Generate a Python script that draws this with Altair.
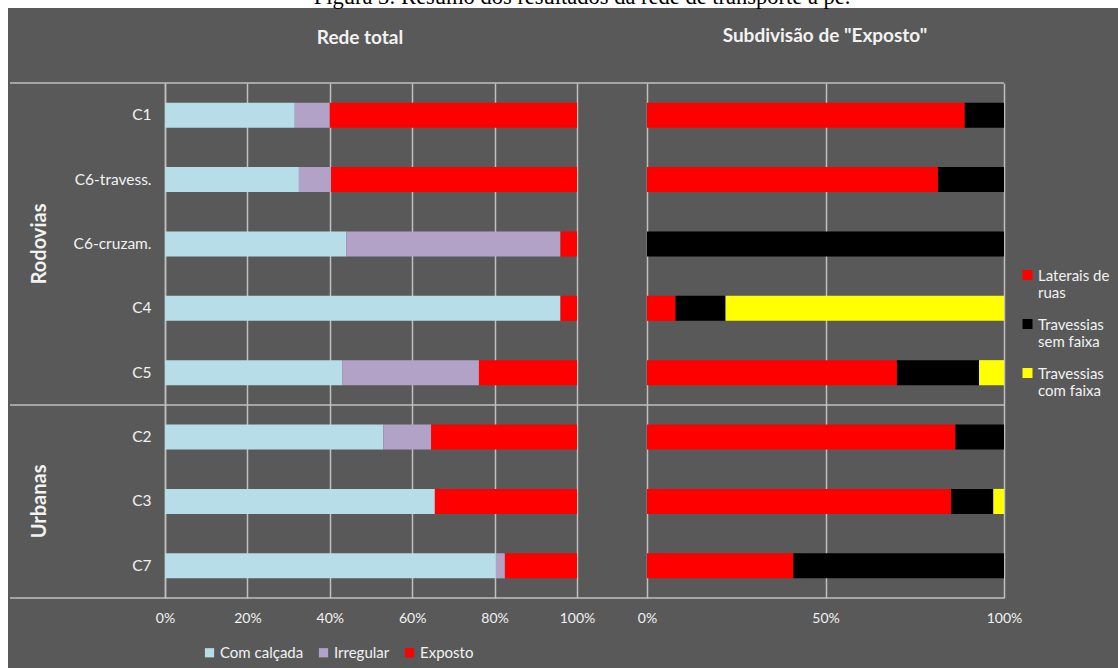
import altair as alt
import pandas as pd

# ---------------- data ----------------
categorias = ["C1", "C6-travess.", "C6-cruzam.", "C4", "C5", "C2", "C3", "C7"]

series_total = ["Com calçada", "Irregular", "Exposto"]
com_calcada = [31.5, 32.5, 44.0, 96.0, 43.0, 53.0, 65.5, 80.3]
irregular = [8.5, 7.8, 52.0, 0.0, 33.2, 11.6, 0.0, 2.2]
exposto = [60.0, 59.7, 4.0, 4.0, 23.8, 35.4, 34.5, 17.5]
cores_total = ["#b7dee8", "#b3a2c7", "#ff0000"]

series_exp = ["Laterais de|ruas", "Travessias|sem faixa", "Travessias|com faixa"]
laterais = [89.0, 81.5, 0.0, 8.0, 70.0, 86.4, 85.2, 41.0]
sem_faixa = [11.0, 18.5, 100.0, 14.0, 23.0, 13.6, 11.8, 59.0]
com_faixa = [0.0, 0.0, 0.0, 78.0, 7.0, 0.0, 3.0, 0.0]
cores_exp = ["#ff0000", "#000000", "#ffff00"]

grupos = ["Rodovias", "Urbanas"]
grupo_centro = ["C6-cruzam.", "C3"]

ticks_total = [0, 0.2, 0.4, 0.6, 0.8, 1.0]
ticks_exp = [0, 0.5, 1.0]

titulo_fig = "Figura 3: Resumo dos resultados da rede de transporte a pé."
titulo_esq = "Rede total"
titulo_dir = 'Subdivisão de "Exposto"'

# ---------------- tables ----------------
rows_l = []
for i, c in enumerate(categorias):
    for j, (s, vals) in enumerate(zip(series_total, [com_calcada, irregular, exposto])):
        rows_l.append({"cat": c, "serie": s, "val": vals[i], "ord": j})
df_l = pd.DataFrame(rows_l)

rows_r = []
for i, c in enumerate(categorias):
    for j, (s, vals) in enumerate(zip(series_exp, [laterais, sem_faixa, com_faixa])):
        rows_r.append({"cat": c, "serie": s, "val": vals[i], "ord": j})
df_r = pd.DataFrame(rows_r)

df_g = pd.DataFrame({"cat": grupo_centro, "grupo": grupos})
one = pd.DataFrame({"k": [0]})

# ---------------- layout / style ----------------
W1, W2, H, GAP = 412, 357, 515, 70
X0, Y0 = 165, 83
PAGE_W, PAGE_H, M = 1118, 668, 8
FONT = "Lato"
LINE = "#c0c0c0"
TXT = "#f2f2f2"
BG = "#595959"
FIG_FS = 22.5
PT = -(round(0.8 * FIG_FS) - 4)

yscale = alt.Scale(domain=categorias, paddingInner=0.61, paddingOuter=0.305)

y_axis_l = alt.Axis(title=None, ticks=False, domain=True, domainColor=LINE, domainWidth=1.5,
                    labelPadding=14, labelFont=FONT, labelFontSize=15.5, labelColor=TXT)


def x_axis(vals):
    return alt.Axis(title=None, values=vals, format="%", grid=True, gridColor=LINE, gridWidth=1.5,
                    domain=False, ticks=False, labelPadding=13, labelFont=FONT, labelFontSize=14,
                    labelColor=TXT, labelFlush=False, labelOverlap=False)


def hrule(y, x1, x2):
    return alt.Chart(one).mark_rule(color=LINE, strokeWidth=1.5).encode(
        x=alt.value(x1), x2=alt.value(x2), y=alt.value(y))


def panel_title(text, xc, yc):
    return alt.Chart(one).mark_text(text=text, font=FONT, fontSize=19, fontWeight="bold", color=TXT,
                                    align="center", baseline="middle").encode(
        x=alt.value(xc), y=alt.value(yc))


bars_l = alt.Chart(df_l).mark_bar().encode(
    y=alt.Y("cat:N", sort=categorias, scale=yscale, axis=y_axis_l),
    x=alt.X("val:Q", stack="normalize", scale=alt.Scale(domain=[0, 1], nice=False), axis=x_axis(ticks_total)),
    color=alt.Color("serie:N", sort=series_total,
                    scale=alt.Scale(domain=series_total, range=cores_total),
                    legend=alt.Legend(title=None, orient="none", legendX=202 - X0, legendY=653 - Y0 - 8,
                                      direction="horizontal", symbolType="square", symbolSize=85,
                                      symbolStrokeWidth=0, labelFont=FONT, labelFontSize=15,
                                      labelColor=TXT, labelOffset=3, columnPadding=12, padding=0)),
    order=alt.Order("ord:Q"),
)

grp_l = alt.Chart(df_g).mark_text(angle=270, font=FONT, fontSize=20, fontWeight="bold", color=TXT).encode(
    y=alt.Y("cat:N", sort=categorias, scale=yscale, axis=y_axis_l),
    x=alt.value(40 - X0),
    text="grupo:N",
)

white_top = alt.Chart(one).mark_rect(color="white").encode(
    x=alt.value(-X0), x2=alt.value(PAGE_W - X0), y=alt.value(-Y0), y2=alt.value(M - Y0))
white_left = alt.Chart(one).mark_rect(color="white").encode(
    x=alt.value(-X0), x2=alt.value(M - X0), y=alt.value(-Y0), y2=alt.value(PAGE_H - Y0))
fig_title = alt.Chart(one).mark_text(text=titulo_fig, font="Liberation Serif", fontSize=FIG_FS, color="black",
                                     align="center", baseline="alphabetic").encode(
    x=alt.value(582 - X0), y=alt.value(4 - Y0))

x_end = W1 + GAP + W2
left = alt.layer(
    white_top, white_left, fig_title,
    panel_title(titulo_esq, 360 - X0, 38 - Y0),
    bars_l, grp_l,
    hrule(0, 10 - X0, x_end),
    hrule(H * 5 / 8, 10 - X0, x_end),
    hrule(H, 10 - X0, x_end),
).properties(width=W1, height=H)

bars_r = alt.Chart(df_r).mark_bar().encode(
    y=alt.Y("cat:N", sort=categorias, scale=yscale, axis=None),
    x=alt.X("val:Q", stack="normalize", scale=alt.Scale(domain=[0, 1], nice=False), axis=x_axis(ticks_exp)),
    color=alt.Color("serie:N", sort=series_exp,
                    scale=alt.Scale(domain=series_exp, range=cores_exp),
                    legend=alt.Legend(title=None, orient="none", legendX=1020 - (X0 + W1 + GAP),
                                      legendY=273 - Y0, direction="vertical",
                                      symbolType="M-1,-2.1H1V-0.1H-1Z", symbolSize=100,
                                      symbolStrokeWidth=0, labelFont=FONT, labelFontSize=15,
                                      labelColor=TXT, labelOffset=3, labelBaseline="alphabetic",
                                      labelExpr="split(datum.label, '|')", rowPadding=16, padding=0)),
    order=alt.Order("ord:Q"),
)

right = alt.layer(
    panel_title(titulo_dir, 825 - (X0 + W1 + GAP), 36 - Y0),
    bars_r,
).properties(width=W2, height=H)

chart = alt.hconcat(left, right, spacing=GAP, bounds="flush").resolve_scale(
    color="independent", x="independent", y="independent"
).resolve_legend(color="independent").properties(
    background=BG, padding={"left": 0, "top": PT, "right": 0, "bottom": 0}
).configure_view(strokeWidth=0)

chart.save("out.html", embed_options={"renderer": "svg", "actions": False})
